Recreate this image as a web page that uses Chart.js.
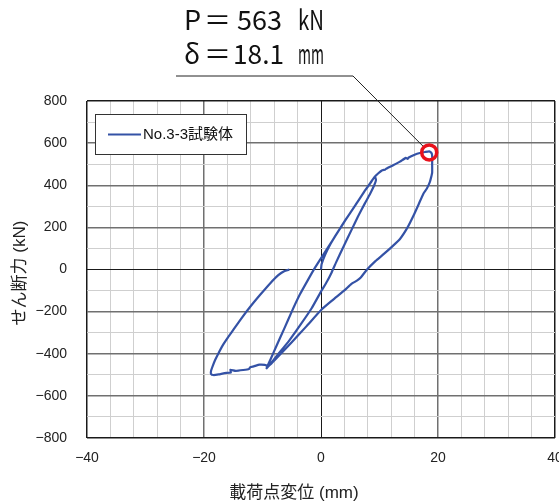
<!DOCTYPE html>
<html>
<head>
<meta charset="utf-8">
<script src="https://cdn.jsdelivr.net/npm/chart.js@4/dist/chart.umd.min.js"></script>
<style>
  html, body { margin: 0; padding: 0; background: #fff; overflow: hidden; }
</style>
</head>
<body>
<canvas id="chart-hysteresis" width="566" height="503"></canvas>
<script>
// 載荷点変位 (mm) / せん断力 (kN)
const disp = [
  0, 0.1, 0.7, 1.6, 2.8, 4.2, 5.8, 7.4, 8.5, 9.2,
  9.4, 9.1, 8.4, 7.5, 6.3, 5.2, 3.9, 2.6, 1.8, 1.0, 0.1, -1.6, -3.5, -5.5, -7.5, -8.7, -9.3,
  -8.6, -7.6, -6.3, -5.0, -3.6, -2.2, -1.0, 0.1, 1.2, 2.7, 4.1, 5.8, 7.5, 8.5, 9.2, 9.8, 10.4, 11.0, 11.3,
  12.4, 13.5, 14.5, 14.8, 15.0, 16.0, 16.9, 17.8, 18.5, 18.9, 19.0, 19.0, 19.0, 18.8,
  18.6, 18.1, 17.5, 16.7, 15.8, 14.8, 13.5, 12.2, 10.5, 9.3, 7.8, 6.8, 6.2, 5.2, 4.1, 2.0, 0.1,
  -2.5, -5.0, -7.2, -8.5, -9.0, -9.6, -10.5, -11.5, -12.1, -12.3, -13.3, -14.6, -15.5, -15.4,
  -16.5, -17.5, -18.4, -18.8,
  -18.8, -18.5, -18.1, -17.5, -16.8, -15.9, -15.0, -13.6, -12.1, -10.4, -8.7, -7.3, -6.3, -5.4
];
const shear = [
  0, 25, 70, 120, 175, 235, 302, 370, 412, 441,
  425, 400, 360, 314, 250, 187, 112, 35, -15, -58, -100, -184, -262, -340, -408, -450, -469,
  -425, -362, -282, -200, -118, -48, 10, 58, 105, 170, 232, 302, 374, 414, 441, 457, 470, 475, 481,
  496, 512, 530, 525, 532, 545, 553, 558, 561, 553, 540, 500, 460, 435,
  415, 385, 360, 310, 255, 200, 145, 110, 68, 40, -2, -38, -52, -68, -97, -145, -190,
  -270, -345, -410, -447, -458, -453, -452, -460, -464, -472, -477, -481, -476, -489,
  -492, -498, -501, -496,
  -482, -458, -430, -396, -360, -322, -287, -232, -177, -120, -66, -27, -8, 0
];
const peakDisp = [18.5];
const peakShear = [556];

const seriesName = 'No.3-3試験体';
const xTitle = '載荷点変位 (mm)';
const yTitle = 'せん断力 (kN)';
const peakText = ['P＝', '563', 'kN'];
const deltaText = ['δ＝', '18.1', 'mm'];

const xMajor = [-40, -20, 0, 20, 40];
const xTickLabels = ['−40', '−20', '0', '20', '40'];
const yMajor = [-800, -600, -400, -200, 0, 200, 400, 600, 800];
const yTickLabels = ['−800', '−600', '−400', '−200', '0', '200', '400', '600', '800'];

const curveColor = '#3452a6';

function gridColor(value, major, limit) {
  if (value === 0 || Math.abs(value) === limit) return '#1a1a1a';
  if (value % major === 0) return '#707070';
  return '#cfcfcf';
}
function gridWidth(value, major, limit) {
  if (Math.abs(value) === limit) return 1.5;
  if (value === 0) return 1;
  if (value % major === 0) return 1.5;
  return 1;
}

// annotation, legend and axis titles
const decorations = {
  id: 'decorations',
  afterDraw(chart) {
    const ctx = chart.ctx;
    const xs = chart.scales.x, ys = chart.scales.y;
    ctx.save();

    // peak note
    ctx.fillStyle = '#111';
    ctx.textBaseline = 'alphabetic';
    ctx.textAlign = 'left';
    ctx.font = '27px "Noto Sans CJK JP", sans-serif';
    ctx.fillText(peakText[0].charAt(0), 184, 30);
    ctx.fillText(peakText[0].charAt(1), 204, 30);
    ctx.fillText(peakText[1], 237, 30, 47);
    ctx.fillText(peakText[2], 298, 30, 26);
    ctx.fillText(deltaText[0].charAt(0), 184, 64);
    ctx.fillText(deltaText[0].charAt(1), 204, 64);
    ctx.fillText(deltaText[1], 233, 64, 51);
    ctx.fillText(deltaText[2], 298, 64, 26);

    // leader line to the marked point
    const cx = xs.getPixelForValue(peakDisp[0]);
    const cy = ys.getPixelForValue(peakShear[0]);
    const sx = 353, sy = 76;
    const len = Math.hypot(cx - sx, cy - sy);
    const r = 9;
    ctx.strokeStyle = '#222';
    ctx.lineWidth = 1;
    ctx.beginPath();
    ctx.moveTo(176, sy);
    ctx.lineTo(sx, sy);
    ctx.lineTo(cx - (cx - sx) / len * r, cy - (cy - sy) / len * r);
    ctx.stroke();

    // legend box
    ctx.fillStyle = '#fff';
    ctx.fillRect(95, 114, 152, 41);
    ctx.strokeStyle = '#333';
    ctx.lineWidth = 1;
    ctx.strokeRect(95.5, 114.5, 151, 40);
    ctx.strokeStyle = curveColor;
    ctx.lineWidth = 2;
    ctx.beginPath();
    ctx.moveTo(108, 134.5);
    ctx.lineTo(141, 134.5);
    ctx.stroke();
    ctx.fillStyle = '#111';
    ctx.font = '15px "Liberation Sans", "Noto Sans CJK JP", sans-serif';
    ctx.textBaseline = 'middle';
    ctx.fillText(seriesName, 143, 135);

    // axis titles
    ctx.font = '17px "Liberation Sans", "Noto Sans CJK JP", sans-serif';
    ctx.textAlign = 'center';
    ctx.fillStyle = '#222';
    ctx.fillText(xTitle, 294, 493);
    ctx.translate(20, 273);
    ctx.rotate(-Math.PI / 2);
    ctx.fillText(yTitle, 0, 0);
    ctx.restore();
  }
};

const ctx = document.getElementById('chart-hysteresis').getContext('2d');
new Chart(ctx, {
  type: 'scatter',
  data: {
    datasets: [
      {
        label: 'peak',
        data: peakDisp.map((x, i) => ({ x: x, y: peakShear[i] })),
        pointRadius: 7.5,
        pointBorderWidth: 3.5,
        pointBorderColor: '#e8121c',
        pointBackgroundColor: 'rgba(0,0,0,0)',
        showLine: false,
        order: 0
      },
      {
        label: seriesName,
        data: disp.map((x, i) => ({ x: x, y: shear[i] })),
        showLine: true,
        borderColor: curveColor,
        borderWidth: 2.2,
        pointRadius: 0,
        tension: 0.15,
        order: 1
      }
    ]
  },
  options: {
    responsive: false,
    devicePixelRatio: 1,
    animation: false,
    layout: { padding: { top: 101, right: 4, bottom: 0, left: 0 } },
    plugins: {
      legend: { display: false },
      tooltip: { enabled: false }
    },
    scales: {
      x: {
        type: 'linear',
        min: -40,
        max: 40,
        afterFit: s => { s.height = 65; s.paddingLeft = 0; s.paddingRight = 0; },
        border: { display: false },
        grid: {
          drawTicks: false,
          color: c => gridColor(c.tick.value, 20, 40),
          lineWidth: c => gridWidth(c.tick.value, 20, 40)
        },
        ticks: {
          stepSize: 4,
          autoSkip: false,
          maxRotation: 0,
          padding: 12,
          color: '#222',
          font: { family: '"Liberation Sans", Arial, sans-serif', size: 14 },
          callback: v => { const i = xMajor.indexOf(v); return i >= 0 ? xTickLabels[i] : ''; }
        }
      },
      y: {
        type: 'linear',
        min: -800,
        max: 800,
        afterFit: s => { s.width = 87; s.paddingTop = 0; s.paddingBottom = 0; },
        border: { display: false },
        grid: {
          drawTicks: false,
          color: c => gridColor(c.tick.value, 200, 800),
          lineWidth: c => gridWidth(c.tick.value, 200, 800)
        },
        ticks: {
          stepSize: 100,
          autoSkip: false,
          padding: 20,
          color: '#222',
          font: { family: '"Liberation Sans", Arial, sans-serif', size: 14 },
          callback: v => { const i = yMajor.indexOf(v); return i >= 0 ? yTickLabels[i] : ''; }
        }
      }
    }
  },
  plugins: [decorations]
});
</script>
</body>
</html>
